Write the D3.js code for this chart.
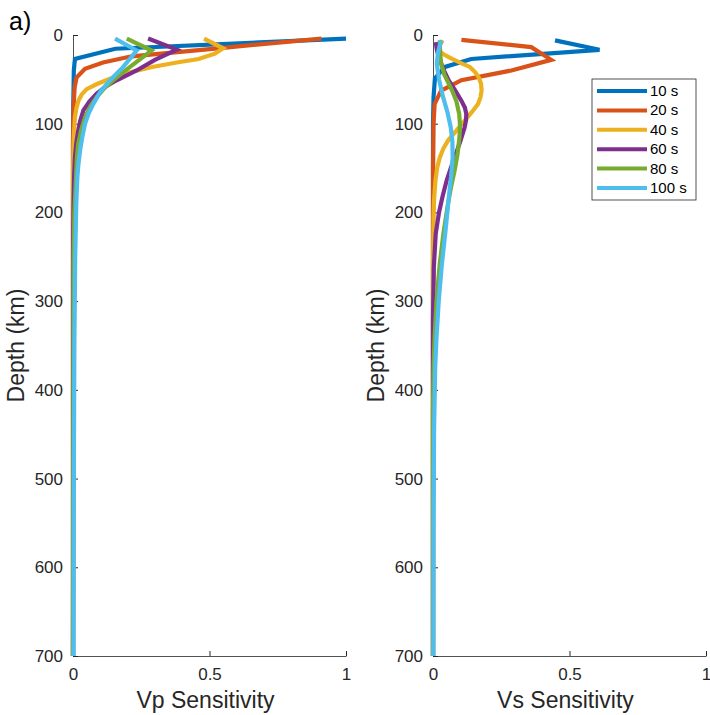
<!DOCTYPE html>
<html lang="en">
<head>
<meta charset="UTF-8">
<script src="https://d3js.org/d3.v7.min.js"></script>
<title>Vp / Vs sensitivity kernels</title>
<style>
  body { margin: 0; background: #fff; }
  svg { font-family: "Liberation Sans", Arial, Helvetica, sans-serif; }
  .tick text { fill: #262626; font-size: 17px; }
  .tick line, .domain { stroke: #262626; }
</style>
</head>
<body>
<div id="wrapper"></div>
<script>
// periods shown in legend
const periods = ["10 s", "20 s", "40 s", "60 s", "80 s", "100 s"];
const colors = ["#0072BD", "#D95319", "#EDB120", "#7E2F8E", "#77AC30", "#4DBEEE"];

// ticks
const depthTicks = [0, 100, 200, 300, 400, 500, 600, 700];
const sensTicks = [0, 0.5, 1];
const sensTickLabels = ["0", "0.5", "1"];

// Vp sensitivity, [depth km, value]
const vp10 = [[4, 1.0], [15.5, 0.155], [27, 0.007], [40, 0.003], [80, 0.001], [120, 0], [700, 0]];
const vp20 = [[4, 0.91], [15, 0.53], [24, 0.215], [31, 0.11], [38, 0.044], [48, 0.013], [59, 0.006], [80, 0.002], [120, 0], [700, 0]];
const vp40 = [[4, 0.48], [15, 0.55], [21, 0.52], [27, 0.46], [31, 0.38], [36, 0.29], [42, 0.21], [48, 0.147], [55, 0.09], [61, 0.05], [67, 0.032], [74, 0.02], [83, 0.012], [93, 0.007], [120, 0.002], [160, 0], [700, 0]];
const vp60 = [[4, 0.275], [16.5, 0.38], [28, 0.3], [40, 0.233], [51, 0.16], [58, 0.12], [66, 0.087], [75, 0.06], [85, 0.038], [96, 0.027], [108, 0.019], [122, 0.012], [138, 0.007], [160, 0.004], [190, 0.002], [220, 0.001], [700, 0]];
const vp80 = [[4, 0.197], [17.5, 0.288], [36, 0.209], [44, 0.175], [51, 0.148], [60, 0.115], [70, 0.087], [80, 0.064], [93, 0.044], [107, 0.03], [123, 0.019], [140, 0.014], [160, 0.011], [200, 0.005], [260, 0.002], [700, 0]];
const vp100 = [[4, 0.154], [17.5, 0.233], [36, 0.184], [51, 0.136], [64, 0.1], [78, 0.074], [88, 0.058], [100, 0.044], [115, 0.034], [130, 0.026], [145, 0.02], [160, 0.016], [190, 0.012], [250, 0.008], [350, 0.005], [500, 0.003], [700, 0.002]];

// Vs sensitivity, [depth km, value]
const vs10 = [[6, 0.447], [16.7, 0.61], [27, 0.14], [36, 0.044], [49, 0.007], [70, 0.002], [100, 0], [700, 0]];
const vs20 = [[5.4, 0.104], [13.7, 0.36], [28, 0.433], [40, 0.287], [51, 0.104], [62.6, 0.03], [77.7, 0.006], [100, 0.002], [150, 0], [700, 0]];
const vs40 = [[6, 0.035], [12, 0.025], [17.5, 0.02], [22, 0.04], [27, 0.07], [32, 0.105], [36, 0.135], [42, 0.155], [48, 0.168], [55, 0.176], [62.6, 0.178], [70, 0.174], [77.7, 0.165], [87, 0.142], [96.5, 0.116], [108, 0.085], [119, 0.055], [128, 0.038], [138, 0.025], [150, 0.015], [164, 0.009], [185, 0.004], [205, 0.002], [260, 0], [700, 0]];
const vs60 = [[8, 0.01], [18, 0.015], [28, 0.025], [40, 0.04], [51, 0.057], [62, 0.08], [74, 0.104], [82, 0.117], [89, 0.122], [96, 0.121], [104, 0.116], [120, 0.1], [138, 0.079], [150, 0.065], [164, 0.05], [182, 0.035], [200, 0.022], [224, 0.01], [262, 0.003], [320, 0], [700, 0]];
const vs80 = [[6, 0.025], [20, 0.026], [32.5, 0.03], [45, 0.042], [55, 0.058], [62.6, 0.07], [75, 0.086], [89, 0.096], [102, 0.099], [115, 0.097], [134, 0.09], [153, 0.079], [170, 0.067], [190, 0.055], [224, 0.038], [260, 0.024], [300, 0.013], [340, 0.006], [375, 0.002], [420, 0], [700, 0]];
const vs100 = [[6, 0.03], [20, 0.018], [32.5, 0.014], [50, 0.022], [70, 0.037], [87, 0.053], [104, 0.065], [120, 0.071], [138, 0.072], [160, 0.066], [183, 0.058], [220, 0.046], [260, 0.032], [300, 0.021], [340, 0.013], [375, 0.008], [443, 0.004], [550, 0.002], [700, 0.001]];

const vpSeries = [vp10, vp20, vp40, vp60, vp80, vp100];
const vsSeries = [vs10, vs20, vs40, vs60, vs80, vs100];

const width = 710, height = 715;
const svg = d3.select("#wrapper").append("svg")
    .attr("width", width)
    .attr("height", height);

const yScale = d3.scaleLinear().domain([0, 700]).range([35, 656]);

function drawPanel(left, right, series, xLabel) {
    const xScale = d3.scaleLinear().domain([0, 1]).range([left, right]);

    const line = d3.line()
        .x(d => xScale(d[1]))
        .y(d => yScale(d[0]));

    // axes
    const yAxis = d3.axisLeft(yScale)
        .tickValues(depthTicks)
        .tickSizeInner(-5)
        .tickSizeOuter(0)
        .tickPadding(10);
    svg.append("g")
        .attr("transform", "translate(" + left + ",0)")
        .call(yAxis);

    const xAxis = d3.axisBottom(xScale)
        .tickValues(sensTicks)
        .tickFormat((d, i) => sensTickLabels[i])
        .tickSizeInner(-5)
        .tickSizeOuter(0)
        .tickPadding(12);
    svg.append("g")
        .attr("transform", "translate(0," + yScale(700) + ")")
        .call(xAxis);

    svg.selectAll(".domain").attr("stroke-width", 0.8);

    // curves
    series.forEach((s, i) => {
        svg.append("path")
            .datum(s)
            .attr("d", line)
            .attr("fill", "none")
            .attr("stroke", colors[i])
            .attr("stroke-width", 4.2);
    });

    // labels
    svg.append("text")
        .attr("x", (left + right) / 2 - 4)
        .attr("y", 708)
        .attr("text-anchor", "middle")
        .attr("fill", "#262626")
        .style("font-size", "23px")
        .text(xLabel);

    svg.append("text")
        .attr("transform", "translate(" + (left - 49) + "," + ((yScale(0) + yScale(700)) / 2) + ") rotate(-90)")
        .attr("text-anchor", "middle")
        .attr("fill", "#262626")
        .style("font-size", "23px")
        .text("Depth (km)");
}

drawPanel(73, 346, vpSeries, "Vp Sensitivity");
drawPanel(433, 706, vsSeries, "Vs Sensitivity");

// panel letter
svg.append("text")
    .attr("x", 9)
    .attr("y", 30)
    .attr("fill", "#000")
    .style("font-size", "25px")
    .text("a)");

// legend
const legend = svg.append("g").attr("transform", "translate(592,79)");
legend.append("rect")
    .attr("width", 104)
    .attr("height", 121)
    .attr("fill", "#fff")
    .attr("stroke", "#262626")
    .attr("stroke-width", 0.8);

periods.forEach((p, i) => {
    const row = legend.append("g").attr("transform", "translate(0," + (12 + i * 19.4) + ")");
    row.append("line")
        .attr("x1", 5).attr("x2", 55)
        .attr("stroke", colors[i])
        .attr("stroke-width", 4);
    row.append("text")
        .attr("x", 58)
        .attr("y", 5)
        .attr("fill", "#000")
        .style("font-size", "15px")
        .text(p);
});
</script>
</body>
</html>
